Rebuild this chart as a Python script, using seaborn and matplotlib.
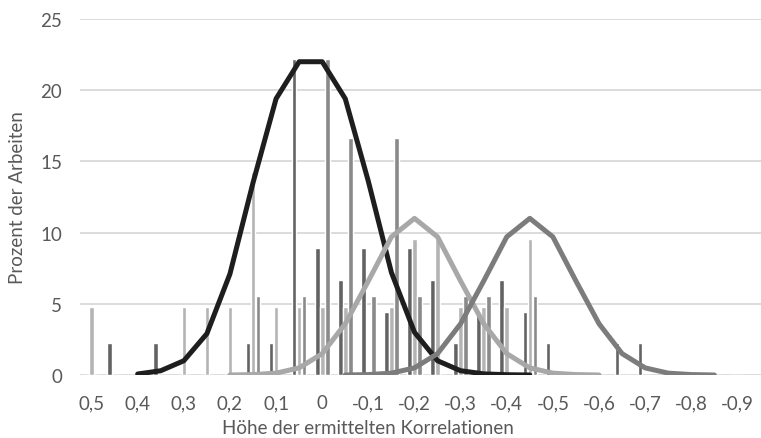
import numpy as np
import pandas as pd
import matplotlib.pyplot as plt
import seaborn as sns

# Kategorien (Korrelationshöhe, absteigend)
kategorien = ["0,5", "0,45", "0,4", "0,35", "0,3", "0,25", "0,2", "0,15", "0,1", "0,05",
              "0", "-0,05", "-0,1", "-0,15", "-0,2", "-0,25", "-0,3", "-0,35", "-0,4", "-0,45",
              "-0,5", "-0,55", "-0,6", "-0,65", "-0,7", "-0,75", "-0,8", "-0,85", "-0,9"]

# Balken: Prozent der Arbeiten je Serie
serie_dunkel = [0, 2.22, 0, 2.22, 0, 0, 0, 2.22, 2.22, 22.22,
                8.89, 6.67, 8.89, 4.44, 8.89, 6.67, 2.22, 4.44, 6.67, 4.44,
                2.22, 0, 0, 2.22, 2.22, 0, 0, 0, 0]
serie_hell = [4.76, 0, 0, 0, 4.76, 4.76, 4.76, 14.29, 4.76, 4.76,
              4.76, 4.76, 0, 4.76, 9.52, 9.52, 4.76, 4.76, 4.76, 9.52,
              0, 0, 0, 0, 0, 0, 0, 0, 0]
serie_mittel = [0, 0, 0, 0, 0, 0, 0, 5.56, 0, 5.56,
                22.22, 16.67, 5.56, 16.67, 5.56, 0, 5.56, 5.56, 0, 5.56,
                0, 0, 0, 0, 0, 0, 0, 0, 0]

# Kurven (Normalverteilungen)
kurve_schwarz_x = kategorien[2:20]
kurve_schwarz_y = [0.07, 0.3, 1.0, 2.9, 7.1, 13.5, 19.4, 22.0, 22.0, 19.4,
                   13.6, 7.2, 3.0, 1.0, 0.3, 0.08, 0.02, 0.0]
kurve_hell_x = kategorien[6:23]
kurve_hell_y = [0.0, 0.03, 0.13, 0.5, 1.5, 3.6, 6.6, 9.7, 11.0, 9.7,
                6.6, 3.6, 1.5, 0.5, 0.13, 0.03, 0.0]
kurve_mittel_x = kategorien[11:28]
kurve_mittel_y = [0.0, 0.03, 0.13, 0.5, 1.5, 3.6, 6.6, 9.7, 11.0, 9.7,
                  6.6, 3.6, 1.5, 0.5, 0.13, 0.03, 0.0]

serien = ["Serie 1", "Serie 2", "Serie 3"]
farben_balken = ["#636363", "#b4b4b4", "#8a8a8a"]
textfarbe = "#595959"

sns.set_theme(style="white")
plt.rcParams["font.family"] = ["Lato", "DejaVu Sans"]

df = pd.DataFrame({
    "kat": kategorien * 3,
    "serie": np.repeat(serien, len(kategorien)),
    "wert": serie_dunkel + serie_hell + serie_mittel,
})

fig = plt.figure(figsize=(7.61, 4.39), dpi=100)
ax = fig.add_axes([80 / 761, 1 - 376 / 439, 680.5 / 761, 356 / 439])
ax.set_axisbelow(True)
ax.yaxis.grid(True, color="#d9d9d9", lw=1.3)

sns.barplot(data=df, x="kat", y="wert", hue="serie", order=kategorien,
            hue_order=serien, palette=farben_balken, width=0.65, gap=0.08,
            errorbar=None, saturation=1, legend=False, ax=ax)

pos = {k: i for i, k in enumerate(kategorien)}
for xs, ys, c in [(kurve_schwarz_x, kurve_schwarz_y, "#1e1e1e"),
                  (kurve_hell_x, kurve_hell_y, "#a8a8a8"),
                  (kurve_mittel_x, kurve_mittel_y, "#7c7c7c")]:
    sns.lineplot(x=[pos[k] for k in xs], y=ys, color=c, linewidth=3.6, ax=ax,
                 solid_capstyle="round", solid_joinstyle="round")

ax.set_xlim(-0.5, 29.0)
ax.set_ylim(0, 25)
ax.set_yticks(range(0, 26, 5))
ax.set_xticks(range(0, len(kategorien), 2))
ax.set_xticklabels(kategorien[::2])
ax.tick_params(axis="both", length=0, labelsize=13.5, colors=textfarbe)
ax.tick_params(axis="x", pad=14)
ax.tick_params(axis="y", pad=13)
sns.despine(ax=ax, left=True, bottom=True)

ax.set_xlabel("Höhe der ermittelten Korrelationen", fontsize=13.5, color=textfarbe)
ax.xaxis.set_label_coords((368 - 80) / 680.5, (376 - 429) / 356)
ax.xaxis.label.set_verticalalignment("center")
ax.set_ylabel("Prozent der Arbeiten", fontsize=13.5, color=textfarbe)
ax.yaxis.set_label_coords((18 - 80) / 680.5, 0.5)
ax.yaxis.label.set_verticalalignment("center")

fig.savefig("out.png", dpi=100)
